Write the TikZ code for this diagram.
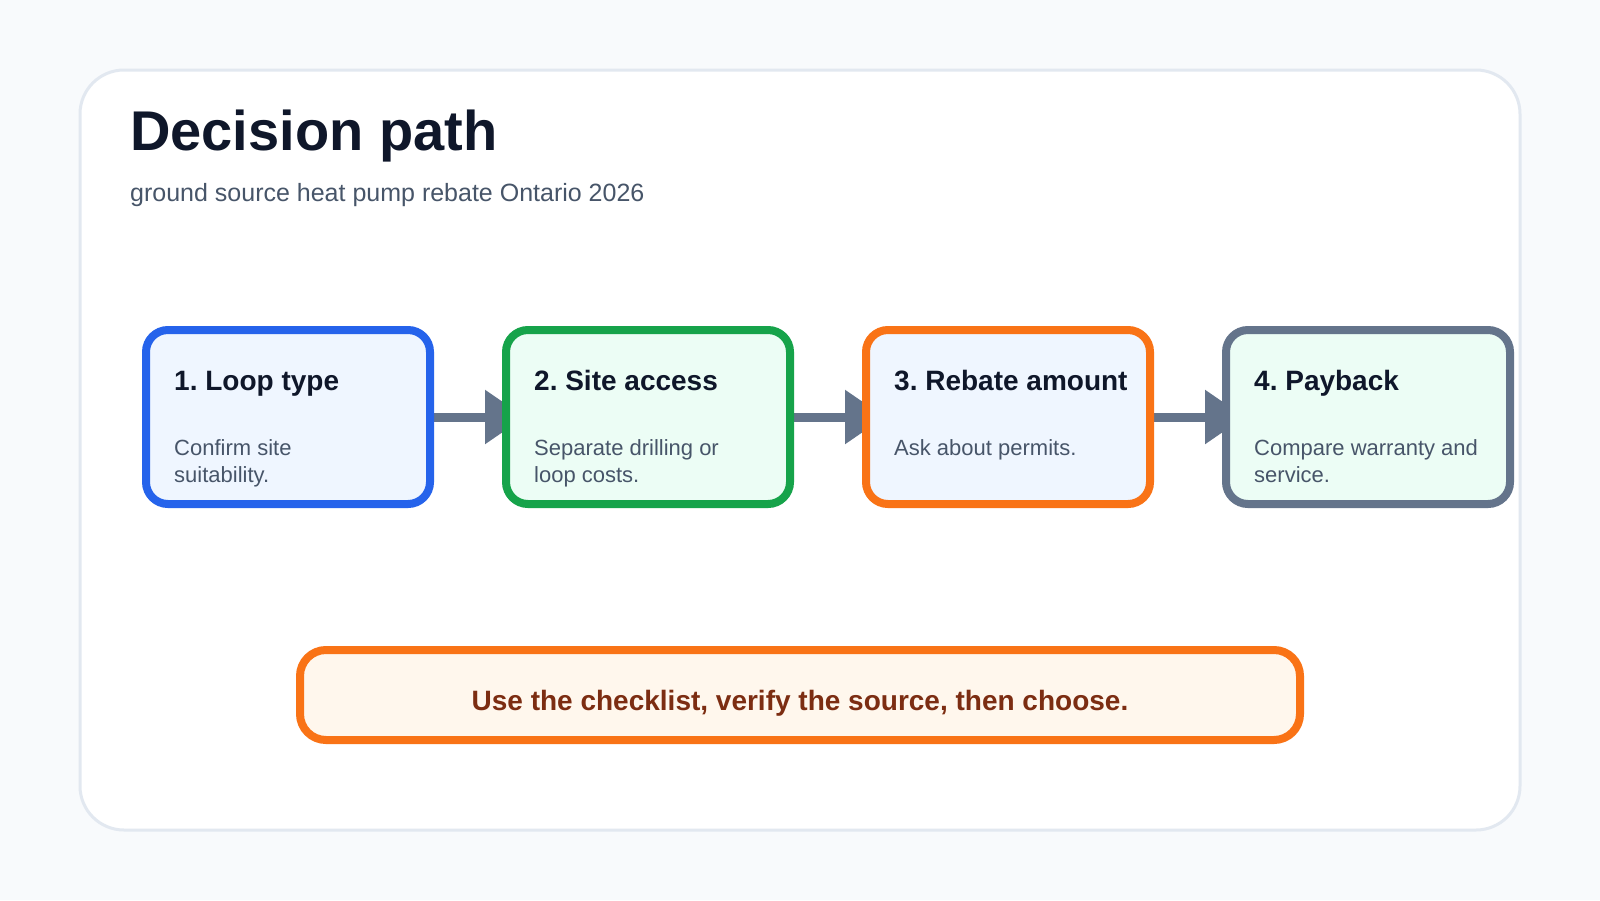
\documentclass[tikz,border=0pt]{standalone}
\usepackage{fontspec}
\setmainfont{Liberation Sans}
\usetikzlibrary{arrows.meta}
\frenchspacing
\definecolor{pagebg}{HTML}{F8FAFC}
\definecolor{cardline}{HTML}{E2E8F0}
\definecolor{ink}{HTML}{0F172A}
\definecolor{muted}{HTML}{475569}
\definecolor{slateline}{HTML}{64748B}
\definecolor{blueline}{HTML}{2563EB}
\definecolor{greenline}{HTML}{16A34A}
\definecolor{orangeline}{HTML}{F97316}
\definecolor{bluefill}{HTML}{EFF6FF}
\definecolor{greenfill}{HTML}{ECFDF5}
\definecolor{notefill}{HTML}{FFF7ED}
\definecolor{notetext}{HTML}{7C2D12}
\tikzset{
  card/.style={draw=cardline, line width=3pt, fill=white, rounded corners=44pt,
    minimum width=1440pt, minimum height=760pt, inner sep=0pt, outer sep=0pt},
  stepbox/.style={line width=8pt, rounded corners=22pt, minimum width=284pt,
    minimum height=174pt, inner sep=0pt, outer sep=0pt},
  steptitle/.style={anchor=base west, inner sep=0pt, text=ink,
    font=\bfseries\fontsize{28}{34}\selectfont},
  stepbody/.style={anchor=base west, inner sep=0pt, text=muted,
    font=\fontsize{22}{27}\selectfont},
  flow/.style={draw=slateline, line width=9pt, line cap=round,
    -{Triangle[length=40pt,width=52pt]}},
  notebox/.style={draw=orangeline, fill=notefill, line width=8pt, rounded corners=26pt,
    minimum width=1000pt, minimum height=90pt, inner sep=0pt, outer sep=0pt}
}
\begin{document}
\begin{tikzpicture}[x=1pt,y=-1pt]
\useasboundingbox (0,0) rectangle (1600,900);
\fill[pagebg] (0,0) rectangle (1600,900);
\node[card] (card) at (800,450) {};
\node[anchor=base west, inner sep=0pt, text=ink, font=\bfseries\fontsize{56}{66}\selectfont] (title) at (130,150) {Decision path};
\node[anchor=base west, inner sep=0pt, text=muted, font=\fontsize{25}{30}\selectfont] (subtitle) at (130,201) {ground source heat pump rebate Ontario 2026};

% boxes (shapes first for connector anchors)
\path (288,417) node[stepbox] (b1) {}
      (648,417) node[stepbox] (b2) {}
      (1008,417) node[stepbox] (b3) {}
      (1368,417) node[stepbox] (b4) {};
% connectors, drawn beneath the boxes
\draw[flow] (b1.east) -- ([xshift=19pt]b2.west);
\draw[flow] (b2.east) -- ([xshift=19pt]b3.west);
\draw[flow] (b3.east) -- ([xshift=19pt]b4.west);
% paint boxes on top
\path[draw=blueline, fill=bluefill, line width=8pt, rounded corners=22pt] (b1.north west) rectangle (b1.south east);
\path[draw=greenline, fill=greenfill, line width=8pt, rounded corners=22pt] (b2.north west) rectangle (b2.south east);
\path[draw=orangeline, fill=bluefill, line width=8pt, rounded corners=22pt] (b3.north west) rectangle (b3.south east);
\path[draw=slateline, fill=greenfill, line width=8pt, rounded corners=22pt] (b4.north west) rectangle (b4.south east);

\node[steptitle] (t1) at (174,390) {1. Loop type};
\node[stepbody] (d1a) at (174,455) {Confirm site};
\node[stepbody] (d1b) at (174,482) {suitability.};

\node[steptitle] (t2) at (534,390) {2. Site access};
\node[stepbody] (d2a) at (534,455) {Separate drilling or};
\node[stepbody] (d2b) at (534,482) {loop costs.};

\node[steptitle] (t3) at (894,390) {3. Rebate amount};
\node[stepbody] (d3a) at (894,455) {Ask about permits.};

\node[steptitle] (t4) at (1254,390) {4. Payback};
\node[stepbody] (d4a) at (1254,455) {Compare warranty and};
\node[stepbody] (d4b) at (1254,482) {service.};

\node[notebox] (note) at (800,695) {};
\node[anchor=base, inner sep=0pt, text=notetext, font=\bfseries\fontsize{28}{34}\selectfont] (notetxt) at (800,710) {Use the checklist, verify the source, then choose.};
\end{tikzpicture}
\end{document}
